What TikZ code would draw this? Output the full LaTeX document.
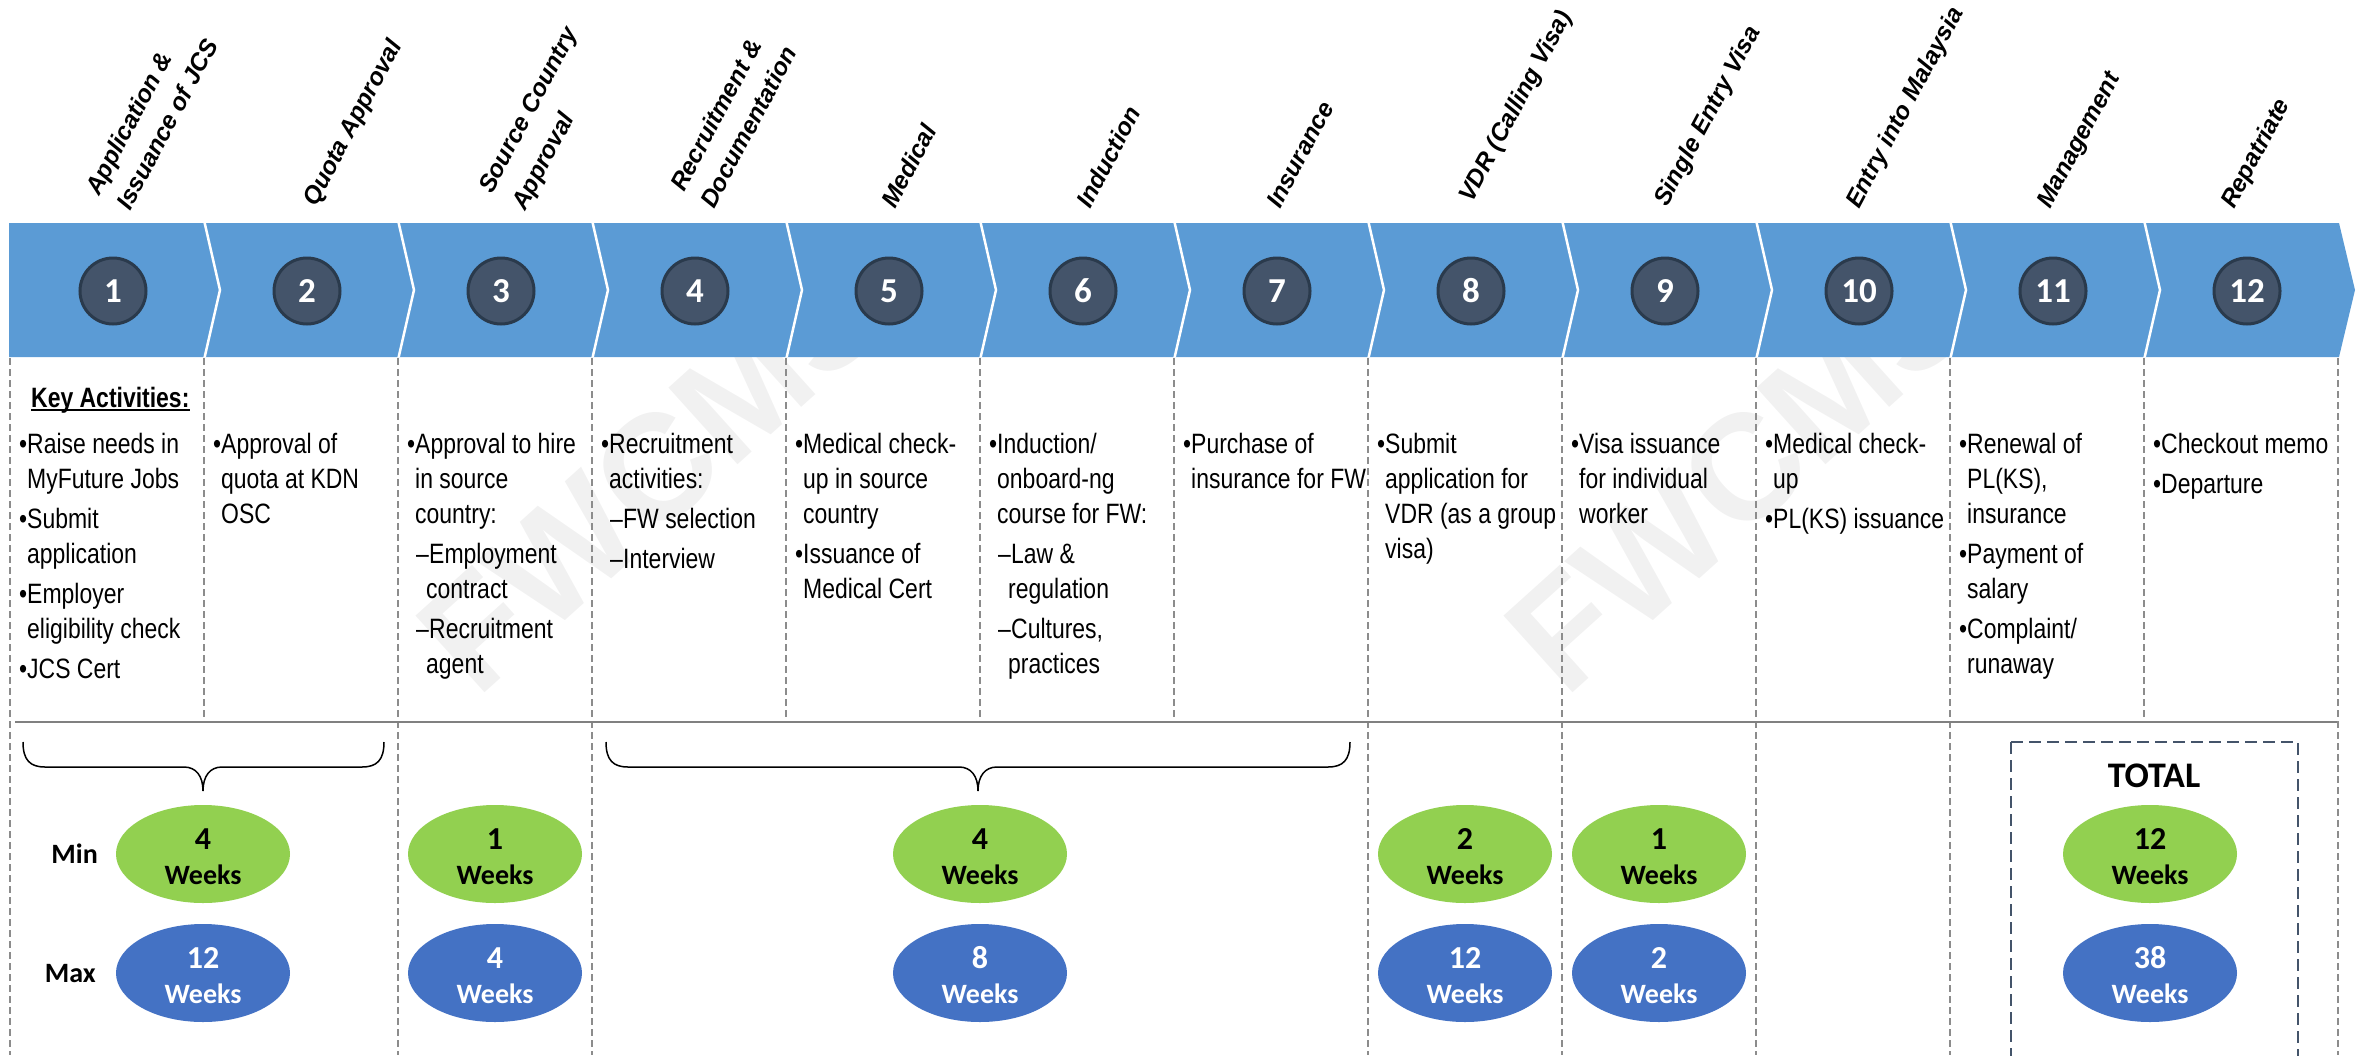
\documentclass[tikz,border=0pt]{standalone}
\usepackage{fontspec}
\setmainfont{Liberation Sans}
\newfontfamily\nf[FakeStretch=0.82]{Liberation Sans}
\newfontfamily\cf{Carlito}
\usetikzlibrary{shapes.geometric}
\definecolor{bandblue}{HTML}{5B9BD5}
\definecolor{circfill}{HTML}{44546A}
\definecolor{circline}{HTML}{2A3A4C}
\definecolor{mingreen}{HTML}{92D050}
\definecolor{maxblue}{HTML}{4472C4}
\definecolor{wmgray}{HTML}{F1F1F1}
\definecolor{dashgray}{HTML}{8C8C8C}
\definecolor{rulegray}{HTML}{808080}
\definecolor{boxslate}{HTML}{44546A}
\newcommand\colfont{\nf\fontsize{28}{35}\selectfont}
\newcommand\bi[1]{\par\addvspace{5pt}\hangindent=8pt\hangafter=1\noindent\makebox[8pt][l]{\textbullet}#1\par}
\newcommand\di[1]{\par\addvspace{5pt}\hangindent=19pt\hangafter=1\noindent\hspace*{9pt}\makebox[13pt][l]{–}#1\par}
\newcommand\colbox[1]{\begin{minipage}[t]{320pt}\colfont\raggedright #1\end{minipage}}
\begin{document}
\begin{tikzpicture}[x=1pt,y=-1pt,
  numc/.style={circle, fill=circfill, draw=circline, line width=3pt, minimum size=66pt, inner sep=0pt, text=white, font=\cf\bfseries\fontsize{35}{35}\selectfont},
  ttl/.style={rotate=62, anchor=base west, inner sep=0pt, font=\bfseries\itshape\fontsize{24.5}{30}\selectfont},
  colnode/.style={anchor=base west, inner sep=0pt},
  mine/.style={ellipse, fill=mingreen, minimum width=174pt, minimum height=98pt, inner sep=0pt, align=center, text height=60pt, text depth=0pt, font=\cf\bfseries\fontsize{28}{35}\selectfont},
  maxe/.style={mine, fill=maxblue, text=white},
  lab/.style={anchor=east, inner sep=0pt, font=\cf\bfseries\fontsize{28}{35}\selectfont},
  vdash/.style={draw=dashgray, line width=1.3pt, dash pattern=on 7pt off 4pt},
  brace/.style={draw=black, line width=1.5pt},
  wm/.style={rotate=42, anchor=base west, inner sep=0pt, text=wmgray, font=\bfseries\fontsize{150}{150}\selectfont}
]
\useasboundingbox (0,0) rectangle (2361,1055);
% watermarks
\node[wm] (wm1) at (477,700) {FWCMS};
\node[wm] (wm2) at (1565,700) {FWCMS};
% band
\fill[bandblue] (9,223) -- (2339,223) -- (2355,290) -- (2339,357) -- (9,357) -- cycle;
\begin{scope}
\clip (9,223) -- (2339,223) -- (2355,290) -- (2339,357) -- (9,357) -- cycle;
\foreach \k in {1,...,11}
  \draw[white, line width=2.5pt] ({10+194*\k},220) -- ({26+194*\k},290) -- ({10+194*\k},360);
\end{scope}
% numbered circles
\foreach \k in {1,...,12}
  \node[numc] (n\k) at ({113+194*(\k-1)},291) {\k};
% titles
\node[ttl] (t1a) at (99,197) {Application \&};
\node[ttl] (t1b) at (130,212) {Issuance of JCS};
\node[ttl] (t2) at (316,208) {Quota Approval};
\node[ttl] (t3a) at (492,195) {Source Country};
\node[ttl] (t3b) at (525,212) {Approval};
\node[ttl] (t4a) at (684,193) {Recruitment \&};
\node[ttl] (t4b) at (714,210) {Documentation};
\node[ttl] (t5) at (895,210) {Medical};
\node[ttl] (t6) at (1090,210) {Induction};
\node[ttl] (t7) at (1280,210) {Insurance};
\node[ttl] (t8) at (1472,204) {VDR (Calling Visa)};
\node[ttl] (t9) at (1667,208) {Single Entry Visa};
\node[ttl] (t10) at (1859,210) {Entry into Malaysia};
\node[ttl] (t11) at (2050,210) {Management};
\node[ttl] (t12) at (2234,210) {Repatriate};
% dashed column separators
\foreach \k in {0,2,3,7,8,9,10,12}
  \draw[vdash] ({10+194*\k},358) -- ({10+194*\k},1055);
\foreach \k in {1,4,5,6,11}
  \draw[vdash] ({10+194*\k},358) -- ({10+194*\k},722);
% horizontal rule
\draw[rulegray, line width=2.5pt] (15,722) -- (2337,722);
% key activities
\node[colnode, font=\nf\bfseries\fontsize{28}{35}\selectfont] (ka) at (31,407) {Key Activities:};
\draw[line width=1.5pt] ([yshift=-3pt]ka.base west) -- ([yshift=-3pt]ka.base east);
\node[colnode] (c1) at (19,453) {\colbox{\bi{Raise needs in\newline MyFuture Jobs}\bi{Submit\newline application}\bi{Employer\newline eligibility check}\bi{JCS Cert}}};
\node[colnode] (c2) at (213,453) {\colbox{\bi{Approval of\newline quota at KDN\newline OSC}}};
\node[colnode] (c3) at (407,453) {\colbox{\bi{Approval to hire\newline in source\newline country:}\di{Employment\newline contract}\di{Recruitment\newline agent}}};
\node[colnode] (c4) at (601,453) {\colbox{\bi{Recruitment\newline activities:}\di{FW selection}\di{Interview}}};
\node[colnode] (c5) at (795,453) {\colbox{\bi{Medical check-\newline up in source\newline country}\bi{Issuance of\newline Medical Cert}}};
\node[colnode] (c6) at (989,453) {\colbox{\bi{Induction/\newline onboard-ng\newline course for FW:}\di{Law \&\newline regulation}\di{Cultures,\newline practices}}};
\node[colnode] (c7) at (1183,453) {\colbox{\bi{Purchase of\newline insurance for FW}}};
\node[colnode] (c8) at (1377,453) {\colbox{\bi{Submit\newline application for\newline VDR (as a group\newline visa)}}};
\node[colnode] (c9) at (1571,453) {\colbox{\bi{Visa issuance\newline for individual\newline worker}}};
\node[colnode] (c10) at (1765,453) {\colbox{\bi{Medical check-\newline up}\bi{PL(KS) issuance}}};
\node[colnode] (c11) at (1959,453) {\colbox{\bi{Renewal of\newline PL(KS),\newline insurance}\bi{Payment of\newline salary}\bi{Complaint/\newline runaway}}};
\node[colnode] (c12) at (2153,453) {\colbox{\bi{Checkout memo}\bi{Departure}}};
% braces
\draw[brace] (23,742) .. controls (23,760) and (30,767) .. (45,767) -- (184,767) .. controls (196,767) and (203,776) .. (203,791) .. controls (203,776) and (210,767) .. (222,767) -- (362,767) .. controls (377,767) and (384,760) .. (384,742);
\draw[brace] (606,742) .. controls (606,760) and (613,767) .. (628,767) -- (959,767) .. controls (971,767) and (978,776) .. (978,791) .. controls (978,776) and (985,767) .. (997,767) -- (1328,767) .. controls (1343,767) and (1350,760) .. (1350,742);
% total box
\draw[boxslate, line width=2.5pt, dash pattern=on 12pt off 6pt] (2011,742) -- (2011,1062) (2011,742) -- (2298,742) -- (2298,1062);
\node[inner sep=0pt, font=\cf\bfseries\fontsize{36}{36}\selectfont] (tot) at (2154,776) {TOTAL};
% min/max labels
\node[lab] (minl) at (98,854) {Min};
\node[lab] (maxl) at (96,974) {Max};
% ellipses
\node[mine] (mn1) at (203,854) {{\fontsize{32}{35}\selectfont 4}\\Weeks};
\node[maxe] (mx1) at (203,973) {{\fontsize{32}{35}\selectfont 12}\\Weeks};
\node[mine] (mn2) at (495,854) {{\fontsize{32}{35}\selectfont 1}\\Weeks};
\node[maxe] (mx2) at (495,973) {{\fontsize{32}{35}\selectfont 4}\\Weeks};
\node[mine] (mn3) at (980,854) {{\fontsize{32}{35}\selectfont 4}\\Weeks};
\node[maxe] (mx3) at (980,973) {{\fontsize{32}{35}\selectfont 8}\\Weeks};
\node[mine] (mn4) at (1465,854) {{\fontsize{32}{35}\selectfont 2}\\Weeks};
\node[maxe] (mx4) at (1465,973) {{\fontsize{32}{35}\selectfont 12}\\Weeks};
\node[mine] (mn5) at (1659,854) {{\fontsize{32}{35}\selectfont 1}\\Weeks};
\node[maxe] (mx5) at (1659,973) {{\fontsize{32}{35}\selectfont 2}\\Weeks};
\node[mine] (mn6) at (2150,854) {{\fontsize{32}{35}\selectfont 12}\\Weeks};
\node[maxe] (mx6) at (2150,973) {{\fontsize{32}{35}\selectfont 38}\\Weeks};
\end{tikzpicture}
\end{document}
